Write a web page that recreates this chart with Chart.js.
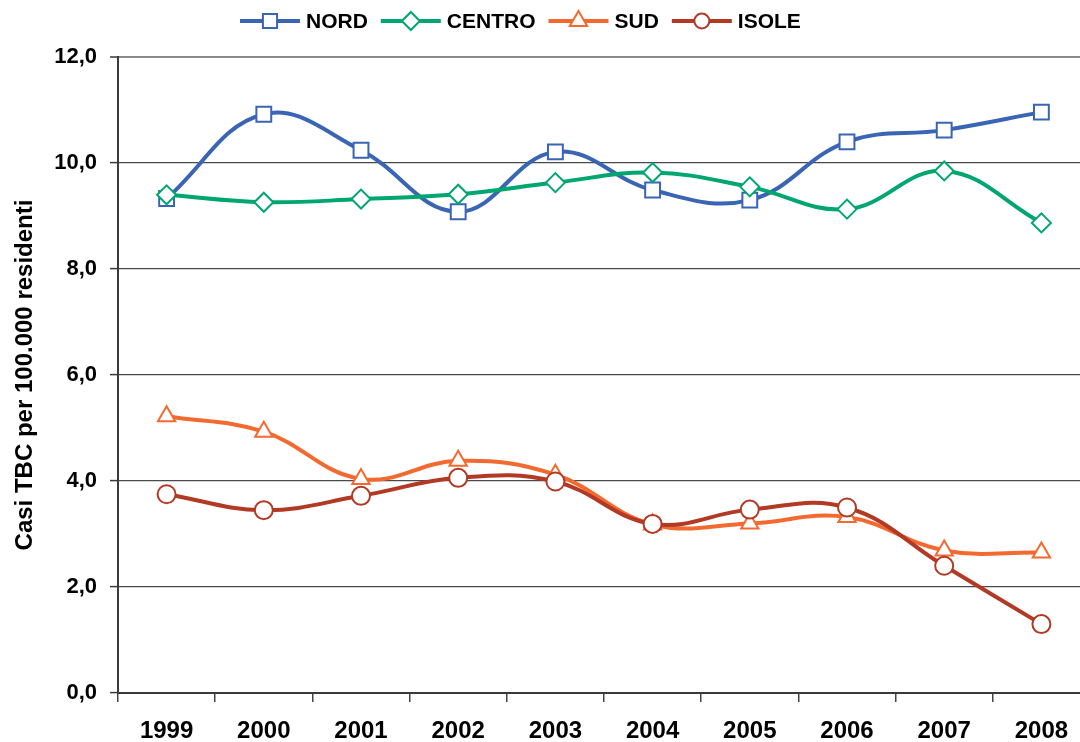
<!DOCTYPE html>
<html>
<head>
<meta charset="utf-8">
<script src="https://cdn.jsdelivr.net/npm/chart.js@4.4.1/dist/chart.umd.min.js"></script>
<style>
  html, body { margin: 0; padding: 0; background: #ffffff; overflow: hidden; }
  #wrap { width: 1090px; height: 742px; }
</style>
</head>
<body>
<div id="wrap"><canvas id="c" width="1090" height="742"></canvas></div>
<script>
const categories = ['1999','2000','2001','2002','2003','2004','2005','2006','2007','2008'];
const nord   = [9.33, 10.92, 10.24, 9.08, 10.21, 9.49, 9.30, 10.40, 10.62, 10.96];
const centro = [9.40, 9.26, 9.32, 9.41, 9.63, 9.82, 9.55, 9.13, 9.85, 8.87];
const sud    = [5.22, 4.93, 4.04, 4.38, 4.12, 3.18, 3.20, 3.32, 2.69, 2.65];
const isole  = [3.75, 3.45, 3.72, 4.06, 3.99, 3.19, 3.46, 3.50, 2.40, 1.30];
const seriesNames = ['NORD', 'CENTRO', 'SUD', 'ISOLE'];
const yTicks = [0, 2, 4, 6, 8, 10, 12];
const yTitle = 'Casi TBC per 100.000 residenti';

const FONT = '"Liberation Sans", Arial, Helvetica, sans-serif';
const colors = ['#3A65B4', '#00A66F', '#F36A30', '#B23A25'];
const styles = ['rect', 'rectRot', 'triangle', 'circle'];
const radii = [10.5, 9.5, 10, 9];
const legendRadii = [10, 9, 10, 7.5];

function makeDataset(i, data, order) {
  return {
    label: seriesNames[i],
    data: data,
    borderColor: colors[i],
    backgroundColor: colors[i],
    borderWidth: 4,
    tension: 0.4,
    pointStyle: styles[i],
    pointRadius: radii[i],
    pointHoverRadius: radii[i],
    pointBackgroundColor: '#ffffff',
    pointBorderColor: colors[i],
    pointBorderWidth: 2,
    order: order,
    clip: false
  };
}

const lineLegend = {
  id: 'lineLegend',
  afterDraw(chart) {
    const ctx = chart.ctx;
    ctx.save();
    ctx.font = 'bold 21px ' + FONT;
    ctx.textBaseline = 'middle';
    ctx.textAlign = 'left';
    let x = 240;
    const y = 21;
    chart.data.datasets.forEach((ds, i) => {
      ctx.strokeStyle = ds.borderColor;
      ctx.lineWidth = 4;
      ctx.beginPath();
      ctx.moveTo(x, y);
      ctx.lineTo(x + 60, y);
      ctx.stroke();
      ctx.fillStyle = '#ffffff';
      ctx.strokeStyle = ds.pointBorderColor;
      ctx.lineWidth = 2;
      Chart.helpers.drawPoint(ctx, { pointStyle: ds.pointStyle, radius: legendRadii[i], borderWidth: 2, rotation: 0 }, x + 30, y);
      ctx.fillStyle = '#000000';
      ctx.fillText(ds.label, x + 66, y + 1);
      x += 66 + ctx.measureText(ds.label).width + 13;
    });
    ctx.restore();
  }
};

new Chart(document.getElementById('c'), {
  type: 'line',
  data: {
    labels: categories,
    datasets: [
      makeDataset(0, nord, 4),
      makeDataset(1, centro, 3),
      makeDataset(2, sud, 2),
      makeDataset(3, isole, 1)
    ]
  },
  options: {
    responsive: false,
    animation: false,
    devicePixelRatio: 1,
    layout: { autoPadding: false, padding: { top: 57, left: 0, right: 0, bottom: 0 } },
    plugins: {
      legend: { display: false },
      tooltip: { enabled: false }
    },
    scales: {
      x: {
        type: 'category',
        offset: true,
        grid: {
          offset: true,
          drawOnChartArea: false,
          drawTicks: true,
          tickLength: 9,
          tickColor: '#444444',
          lineWidth: 1.5
        },
        border: { display: true, color: '#3a3a3a', width: 2 },
        ticks: {
          color: '#000000',
          font: { family: FONT, size: 24, weight: 'bold' },
          padding: 15,
          maxRotation: 0,
          autoSkip: false
        },
        afterFit(scale) {
          scale.height = 49;
          scale.paddingLeft = 0;
          scale.paddingRight = 0;
        }
      },
      y: {
        min: 0,
        max: 12,
        afterBuildTicks(scale) { scale.ticks = yTicks.map(v => ({ value: v })); },
        grid: {
          color: ctx => (ctx.tick && ctx.tick.value === 12) ? '#8a8a8a' : '#4a4a4a',
          lineWidth: ctx => (ctx.tick && ctx.tick.value === 12) ? 2 : 1.2,
          drawTicks: true,
          tickLength: 8,
          tickColor: '#3a3a3a',
          tickWidth: 1.5
        },
        border: { display: true, color: '#3a3a3a', width: 2 },
        ticks: {
          color: '#000000',
          font: { family: FONT, size: 22, weight: 'bold' },
          padding: 13,
          callback: v => v.toFixed(1).replace('.', ',')
        },
        title: {
          display: true,
          text: yTitle,
          color: '#000000',
          font: { family: FONT, size: 24, weight: 'bold' },
          padding: { top: 11, bottom: 0 }
        },
        afterFit(scale) { scale.width = 118; }
      }
    }
  },
  plugins: [lineLegend]
});
</script>
</body>
</html>
